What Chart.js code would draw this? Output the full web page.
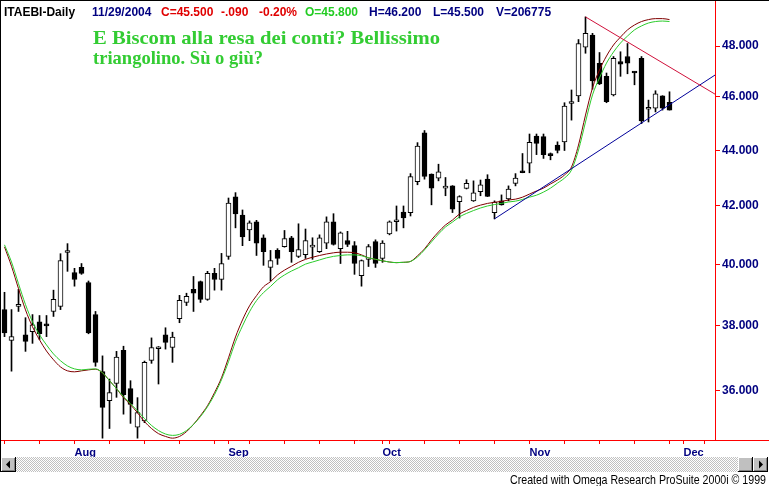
<!DOCTYPE html>
<html><head><meta charset="utf-8">
<script src="https://cdn.jsdelivr.net/npm/chart.js@4/dist/chart.umd.min.js"></script>
<style>html,body{margin:0;padding:0;background:#fff;overflow:hidden}#wrap{width:769px;height:486px;position:relative}canvas{display:block}</style>
</head><body><div id="wrap"><canvas id="c" width="769" height="486"></canvas></div>
<script>
// ---- data (ITAEBI daily, 19 Jul 2004 - 29 Nov 2004) ----
const opens = [38.52,37.54,38.62,37.72,37.82,38.13,38.05,38.46,38.62,40.40,
39.73,39.90,39.40,38.36,36.58,35.70,36.22,37.23,36.06,34.92,
35.10,36.92,37.28,37.72,37.32,38.23,38.75,39.18,39.43,38.85,
39.70,39.50,40.27,42.32,41.68,41.17,41.45,40.90,39.90,40.47,
40.60,40.90,40.27,40.33,40.58,40.43,40.72,41.45,40.53,40.80,
40.63,39.63,40.17,40.77,40.20,41.03,41.45,41.79,41.77,42.86,
44.64,43.13,42.99,42.63,42.71,42.15,42.62,42.18,42.50,42.95,
41.77,42.18,42.25,42.80,43.22,43.53,44.52,44.50,43.84,44.19,
44.31,45.75,46.04,47.95,48.44,47.31,46.80,46.08,47.38,47.58,
46.97,47.51,45.53,45.57,46.04,45.80];
const highs = [39.08,38.52,39.18,38.26,38.36,38.33,38.33,39.15,40.36,40.70,
39.87,40.03,39.45,38.46,37.06,36.35,37.20,37.36,36.30,35.79,
36.90,37.62,37.35,37.94,37.80,38.98,39.05,39.60,39.45,39.77,
39.87,40.37,42.28,42.47,41.86,41.48,41.50,41.00,40.47,40.53,
41.15,40.95,41.38,41.20,40.90,41.00,41.62,41.73,41.10,41.12,
40.77,40.15,40.67,40.83,40.80,41.48,42.00,42.00,43.15,44.28,
44.73,43.14,43.49,43.01,42.72,42.36,42.93,42.89,42.92,43.11,
42.18,42.39,42.71,43.15,43.88,44.60,44.60,44.60,43.90,44.31,
45.78,46.27,48.26,49.18,48.51,47.74,46.93,47.58,47.77,48.10,
46.98,47.58,45.88,46.24,46.05,46.20];
const lows = [37.66,36.59,38.46,37.20,37.45,37.57,37.66,38.30,38.52,39.77,
39.28,39.67,37.75,36.74,34.60,34.88,35.80,35.30,35.03,34.60,
35.05,36.83,36.20,37.27,36.86,38.10,38.65,38.46,38.75,38.82,
39.15,39.15,40.17,41.24,40.63,40.80,40.30,39.97,39.45,40.00,
40.58,40.07,40.23,40.20,40.17,40.40,40.53,40.65,40.03,40.60,
39.67,39.28,39.93,39.90,40.07,41.00,41.13,41.24,41.65,42.75,
42.95,42.04,42.89,42.36,41.77,41.58,42.60,42.16,42.36,42.33,
41.55,42.03,42.18,42.71,43.18,43.18,43.84,43.70,43.65,43.90,
43.99,45.12,45.82,47.71,46.30,46.48,45.78,46.04,46.80,46.90,
46.47,44.99,45.05,45.43,45.50,45.50];
const closes = [37.78,37.66,38.69,37.51,38.03,37.75,38.00,38.85,40.13,40.45,
39.50,39.70,37.78,36.86,35.50,35.94,37.02,35.88,35.59,35.35,
36.86,37.32,37.32,37.48,37.65,38.82,38.95,39.05,38.85,39.70,
39.50,40.03,42.10,41.72,40.93,41.41,40.72,40.43,40.13,40.20,
40.87,40.43,40.50,40.80,40.63,40.90,41.45,40.67,41.07,40.67,
40.03,40.13,40.60,40.03,40.72,41.45,41.50,41.58,43.04,44.15,
43.05,42.63,43.21,42.67,41.89,42.33,42.80,42.46,42.75,42.34,
42.14,42.04,42.60,42.99,43.18,44.29,44.25,43.84,43.80,43.99,
45.65,45.80,48.10,48.51,46.62,46.50,45.82,47.51,47.28,47.32,
46.93,45.09,45.57,46.12,45.57,45.50];
const maRed = [40.59,39.94,39.20,38.51,37.97,37.56,37.21,36.94,36.72,36.60,
36.57,36.60,36.63,36.65,36.54,36.30,36.06,35.79,35.58,35.34,
35.08,34.88,34.73,34.65,34.60,34.65,34.79,35.00,35.26,35.55,
35.94,36.39,37.00,37.65,38.19,38.64,38.97,39.26,39.43,39.65,
39.81,39.94,40.07,40.17,40.24,40.30,40.35,40.39,40.41,40.41,
40.39,40.32,40.22,40.17,40.12,40.08,40.06,40.07,40.10,40.29,
40.52,40.83,41.10,41.34,41.51,41.72,41.84,41.95,42.03,42.09,
42.13,42.16,42.21,42.24,42.31,42.42,42.53,42.63,42.78,42.92,
43.10,43.39,44.19,45.31,46.35,47.05,47.60,48.04,48.36,48.65,
48.85,48.99,49.07,49.11,49.11,49.07];
const maGreen = [40.66,40.08,39.36,38.68,38.13,37.72,37.40,37.12,36.91,36.75,
36.66,36.63,36.65,36.66,36.54,36.30,36.06,35.82,35.61,35.40,
35.17,34.97,34.82,34.72,34.68,34.71,34.82,35.00,35.23,35.52,
35.88,36.33,36.88,37.50,38.00,38.45,38.81,39.07,39.27,39.49,
39.65,39.78,39.89,40.01,40.08,40.15,40.22,40.27,40.30,40.32,
40.32,40.29,40.22,40.17,40.12,40.08,40.06,40.07,40.10,40.25,
40.49,40.76,41.03,41.27,41.44,41.62,41.74,41.84,41.93,42.00,
42.05,42.09,42.14,42.17,42.23,42.31,42.38,42.49,42.63,42.81,
42.99,43.28,44.01,45.05,46.08,46.74,47.32,47.76,48.12,48.40,
48.65,48.81,48.93,48.99,49.01,48.99];
const trendHigh = [{x:83,y:49.18},{x:101.5,y:46.11}];
const trendLow = [{x:70,y:41.55},{x:101.5,y:46.85}];
const yTickValues = [36,38,40,42,44,46,48];
const monthNames = ['Jan','Feb','Mar','Apr','May','Jun','Jul','Aug','Sep','Oct','Nov','Dec'];
const headerTexts = ['ITAEBI-Daily','11/29/2004','C=45.500','-.090','-0.20%','O=45.800','H=46.200','L=45.500','V=206775'];
const commentLines = ['E Biscom alla resa dei conti? Bellissimo','triangolino. Sù o giù?'];
const footerText = 'Created with Omega Research ProSuite 2000i \u00A9 1999';

// trading-day calendar: 96 bars + empty slots up to the right edge
const nSlots = 102;
const categories = [];
(function(){ const d = new Date(Date.UTC(2004,6,19));
  while (categories.length < nSlots) { const w = d.getUTCDay(); if (w>0 && w<6) categories.push(d.toISOString().slice(0,10)); d.setUTCDate(d.getUTCDate()+1); } })();
const catDate = s => new Date(s+'T00:00:00Z');
function isMonthStart(i){ return i>0 && i<nSlots && catDate(categories[i]).getUTCMonth() !== catDate(categories[i-1]).getUTCMonth(); }
function isTickMark(i){ return isMonthStart(i) || catDate(categories[i]).getUTCDay()===1; }
const tickIdx = categories.map((c,i)=>i).filter(isTickMark);

// ---- styling / layout ----
const headerStyle = [
  {x:4,color:'#000000'},{x:92,color:'#000080'},{x:161,color:'#e00000'},{x:221,color:'#e00000'},
  {x:259,color:'#e00000'},{x:305,color:'#22cc22'},{x:369,color:'#000080'},{x:433,color:'#000080'},{x:496,color:'#000080'}];
const PLOT_TOP = 1, PLOT_BOTTOM = 440;
const yMin = 48*Math.exp(-(PLOT_BOTTOM-46)/1198), yMax = 48*Math.exp((46-PLOT_TOP)/1198);
const axisFont = {family:'"Liberation Sans", Arial, sans-serif', size:11, weight:'bold'};

function fitText(c, text, x, y, w){ const m = c.measureText(text).width; c.save(); c.translate(x,y); c.scale(w/m,1); c.fillText(text,0,0); c.restore(); }

const decor = {
  id:'decor',
  beforeDraw(chart){
    const c = chart.ctx; c.save(); c.fillStyle='#fff'; c.fillRect(0,0,chart.width,chart.height); c.restore();
  },
  afterDraw(chart){
    const c = chart.ctx, a = chart.chartArea;
    c.save();
    c.fillStyle='#000'; c.fillRect(0,0,chart.width,1); c.fillRect(0,0,1,472);
    c.strokeStyle='#ff0000'; c.lineWidth=1; c.beginPath(); c.moveTo(a.right, a.bottom+0.5); c.lineTo(chart.width, a.bottom+0.5); c.stroke();
    c.font = 'bold 12px "Liberation Sans", Arial, sans-serif'; c.textBaseline='alphabetic';
    headerTexts.forEach((t,i)=>{ c.fillStyle=headerStyle[i].color; c.fillText(t, headerStyle[i].x, 15.5); });
    c.font = 'bold 19px "Liberation Serif", "Times New Roman", serif'; c.fillStyle='#33cc33';
    fitText(c, commentLines[0], 93, 44, 347); fitText(c, commentLines[1], 93, 64, 170);
    const sy=457, sh=15;
    const pc=document.createElement('canvas'); pc.width=2; pc.height=2; const px=pc.getContext('2d');
    px.fillStyle='#fff'; px.fillRect(0,0,2,2); px.fillStyle='#c0c0c0'; px.fillRect(0,0,1,1); px.fillRect(1,1,1,1);
    c.fillStyle=c.createPattern(pc,'repeat'); c.fillRect(1,sy,chart.width-2,sh);
    function btn(x,w){ c.fillStyle='#c0c0c0'; c.fillRect(x,sy,w,sh); c.fillStyle='#fff'; c.fillRect(x,sy,w-1,1); c.fillRect(x,sy,1,sh-1);
      c.fillStyle='#808080'; c.fillRect(x+1,sy+sh-2,w-2,1); c.fillRect(x+w-2,sy+1,1,sh-2); c.fillStyle='#000'; c.fillRect(x,sy+sh-1,w,1); c.fillRect(x+w-1,sy,1,sh); }
    btn(1,15); btn(738,15); btn(753,15);
    c.fillStyle='#000'; c.beginPath(); c.moveTo(6,sy+7.5); c.lineTo(10,sy+3.5); c.lineTo(10,sy+11.5); c.closePath(); c.fill();
    c.beginPath(); c.moveTo(763,sy+7.5); c.lineTo(759,sy+3.5); c.lineTo(759,sy+11.5); c.closePath(); c.fill();
    c.font='13px "Liberation Sans Narrow", "Liberation Sans", Arial, sans-serif'; c.fillStyle='#000'; c.textAlign='right';
    c.fillText(footerText, 766, 484, 256);
    c.restore();
  }
};

const xy = arr => arr.map((v,i)=>({x:i, y:v}));

new Chart(document.getElementById('c'), {
  type:'bar',
  data:{
    datasets:[
      {type:'line', label:'Trend high', data:trendHigh, borderColor:'#d0103a', borderWidth:1, pointRadius:0, order:0},
      {type:'line', label:'Trend low', data:trendLow, borderColor:'#000099', borderWidth:1, pointRadius:0, order:0},
      {type:'line', label:'Avg slow', data:xy(maGreen), borderColor:'#2ccc2c', borderWidth:1, pointRadius:0, cubicInterpolationMode:'monotone', order:1},
      {type:'line', label:'Avg fast', data:xy(maRed), borderColor:'#800000', borderWidth:1, pointRadius:0, cubicInterpolationMode:'monotone', order:1.5},
      {label:'Range', data:lows.map((l,i)=>({x:i, y:[l,highs[i]]})), backgroundColor:'#000', borderWidth:0, barThickness:1, grouped:false, order:3},
      {label:'Body', data:opens.map((o,i)=>({x:i, y:[o,closes[i]]})), backgroundColor:ctx=>closes[ctx.dataIndex]>=opens[ctx.dataIndex]?'#ffffff':'#000000',
        borderColor:'#000', borderWidth:1, borderSkipped:false, barThickness:5, minBarLength:2, grouped:false, order:2}
    ]
  },
  options:{
    responsive:false, animation:false, devicePixelRatio:1,
    layout:{padding:{left:1, top:PLOT_TOP, right:4, bottom:28}},
    plugins:{legend:{display:false}, tooltip:{enabled:false}, title:{display:false}},
    scales:{
      x:{type:'linear', offset:false, bounds:'data', min:-0.5, max:nSlots-0.5,
        afterBuildTicks:s=>{s.ticks=tickIdx.map(v=>({value:v})); s.min=-0.5; s.max=nSlots-0.5;},
        grid:{offset:false, drawOnChartArea:false, tickLength:4, color:'rgba(0,0,0,0)', tickColor:'#ff0000'},
        border:{display:true, color:'#ff0000', width:1},
        ticks:{autoSkip:false, maxRotation:0, minRotation:0, align:'start', padding:2, color:'#000080', font:axisFont,
          callback:v=>isMonthStart(v)?monthNames[catDate(categories[v]).getUTCMonth()]:''},
        afterFit:s=>{s.height=18; s.paddingLeft=0; s.paddingRight=0;}},
      y:{type:'logarithmic', position:'right', bounds:'data', min:yMin, max:yMax,
        afterBuildTicks:s=>{s.ticks=yTickValues.map(v=>({value:v})); s.min=yMin; s.max=yMax;},
        grid:{drawOnChartArea:false, tickLength:5, tickColor:'#ff0000'},
        border:{display:true, color:'#ff0000', width:1},
        ticks:{color:'#000080', padding:2, font:{family:'"Liberation Sans", Arial, sans-serif', size:12, weight:'bold'}, callback:v=>Number(v).toFixed(3)},
        afterFit:s=>{s.width=50; s.paddingTop=0; s.paddingBottom=0;}}
    }
  },
  plugins:[decor]
});
</script></body></html>
